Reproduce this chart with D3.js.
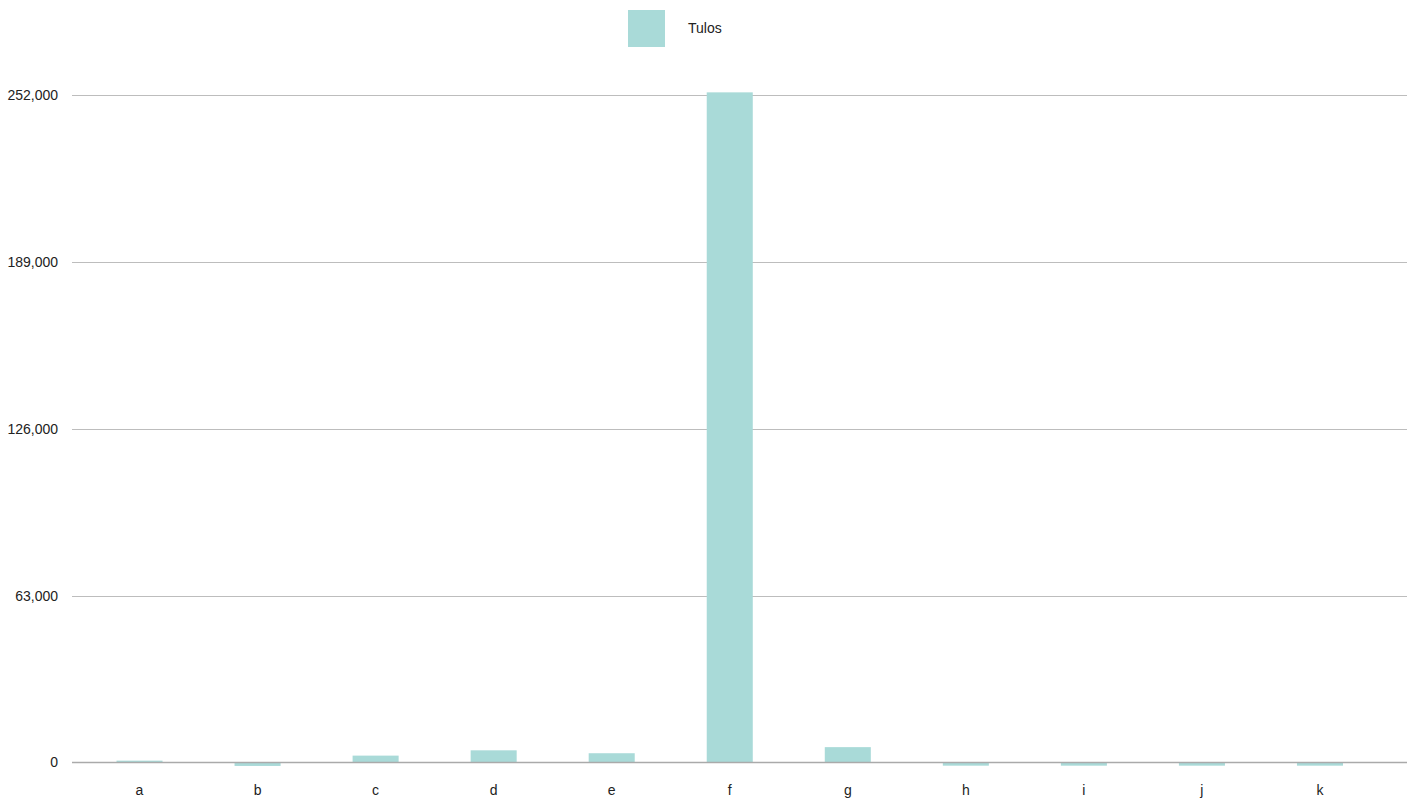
<!DOCTYPE html>
<html><head><meta charset="utf-8">
<script src="https://cdn.jsdelivr.net/npm/d3@7"></script>
<style>body{margin:0;background:#fff;} text{font-family:"Liberation Sans",Arial,sans-serif;}</style>
</head><body>
<svg id="c" width="1420" height="805"></svg>
<script>
const categories = ["a","b","c","d","e","f","g","h","i","j","k"];
const values = [700, -1300, 2600, 4600, 3500, 253000, 5800, -1200, -1200, -1200, -1200];
const yTicks = [0, 63000, 126000, 189000, 252000];
const seriesName = "Tulos";

const svg = d3.select("#c");
const color = "#a9dad8";
const x = d3.scaleBand().domain(categories).range([80.5, 1379]).paddingInner(0.61).paddingOuter(0.305);
const y = d3.scaleLinear().domain([0, 252000]).range([762.5, 95]);

// grid
svg.append("g").selectAll("line").data(yTicks.filter(d=>d!==0)).join("line")
  .attr("x1", 72).attr("x2", 1407)
  .attr("y1", d=>Math.round(y(d))+0.5).attr("y2", d=>Math.round(y(d))+0.5)
  .attr("stroke", "#bdbdbd").attr("stroke-width", 1);

// y labels
svg.append("g").selectAll("text").data(yTicks).join("text")
  .attr("x", 58).attr("y", d=>y(d)).attr("dy", "0.35em")
  .attr("text-anchor", "end").attr("font-size", 14).attr("fill", "#222")
  .text(d=>d3.format(",")(d));

// bars
svg.append("g").selectAll("rect").data(values).join("rect")
  .attr("x", (d,i)=>x(categories[i])).attr("width", x.bandwidth())
  .attr("y", d=>Math.min(y(d), y(0))).attr("height", d=>Math.abs(y(d)-y(0)))
  .attr("fill", color);

// baseline
svg.append("line").attr("x1", 72).attr("x2", 1407)
  .attr("y1", y(0)).attr("y2", y(0)).attr("stroke", "#aaaaaa").attr("stroke-width", 1.5);

// x labels
svg.append("g").selectAll("text").data(categories).join("text")
  .attr("x", d=>x(d)+x.bandwidth()/2).attr("y", 790).attr("dy","0.35em")
  .attr("text-anchor","middle").attr("font-size", 14).attr("fill","#222")
  .text(d=>d);

// legend
svg.append("rect").attr("x", 628).attr("y", 10).attr("width", 37).attr("height", 37).attr("fill", color);
svg.append("text").attr("x", 688).attr("y", 28.5).attr("dy","0.35em").attr("font-size", 14).attr("fill","#222").text(seriesName);
</script>
</body></html>
